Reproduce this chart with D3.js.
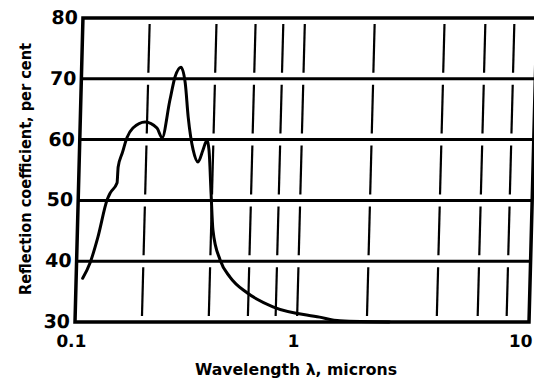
<html>

<head>
    <style>
        body {
            margin: 0;
            background: #fff;
        }

        text {
            font-family: "DejaVu Sans Condensed", "DejaVu Sans", sans-serif;
            font-weight: bold;
            fill: #000;
        }
    </style>
    <script src="https://cdn.jsdelivr.net/npm/d3@7"></script>
</head>

<body>

    <svg id="chart" width="534" height="386"></svg>

    <script>
        // reflection curve
        var wavelength = [0.107, 0.115, 0.124, 0.135, 0.139, 0.149, 0.150, 0.156, 0.163, 0.173,
            0.196, 0.222, 0.235, 0.252, 0.264, 0.280, 0.294, 0.306, 0.325, 0.343,
            0.360, 0.374, 0.383, 0.396, 0.408, 0.443, 0.493, 0.591, 0.776, 1.25,
            1.53, 2.5];
        var reflection = [37.2, 39.7, 44.0, 50.1, 51.2, 52.9, 55.5, 57.8, 60.3, 61.9,
            62.9, 61.9, 60.3, 66.5, 70.3, 71.9, 69.3, 63.7, 58.3, 56.3,
            58.3, 59.9, 58.3, 51.2, 45.1, 40.2, 37.4, 34.8, 32.5, 30.8,
            30.2, 30.0];

        var yTicks = [30, 40, 50, 60, 70, 80];
        var xTickLabels = ["0.1", "1", "10"];
        var xTickValues = [0.1, 1, 10];
        var xGrid = [0.2, 0.4, 0.6, 0.8, 1, 2, 4, 6, 8];

        var svg = d3.select("svg#chart");

        var bottom = 322;

        // the scan is a bit uneven, so each decade gets its own width
        var x = d3.scaleLog()
            .domain([0.1, 1, 10])
            .range([75, 297, 529]);

        var y = d3.scaleLinear()
            .domain([30, 80])
            .range([bottom, 18]);

        // whole plot leans slightly, like the printed figure
        var g = svg.append('g')
            .attr('transform', 'translate(0,' + bottom + ') skewX(-1.5) translate(0,' + (-bottom) + ')');

        // broken vertical grid: one dash per band, with gaps at the horizontal lines
        var bands = d3.pairs(yTicks);
        var dashes = [];
        xGrid.forEach(function (v) {
            bands.forEach(function (b) {
                dashes.push({ v: v, lo: b[0], hi: b[1] });
            });
        });

        g.selectAll('line.vgrid')
            .data(dashes)
            .enter().append('line')
            .attr('class', 'vgrid')
            .attr('x1', function (d) { return x(d.v); })
            .attr('x2', function (d) { return x(d.v); })
            .attr('y1', function (d) { return y(d.lo) - 6; })
            .attr('y2', function (d) { return y(d.hi) + 6; })
            .attr('stroke', '#000')
            .attr('stroke-width', 2.2);

        // horizontal grid lines
        g.selectAll('line.hgrid')
            .data(yTicks.slice(1, -1))
            .enter().append('line')
            .attr('class', 'hgrid')
            .attr('x1', x(0.1))
            .attr('x2', x(10))
            .attr('y1', function (d) { return y(d); })
            .attr('y2', function (d) { return y(d); })
            .attr('stroke', '#000')
            .attr('stroke-width', 3);

        // frame (right side starts a little below the top, as in the scan)
        var frame = d3.path();
        frame.moveTo(x(10) + 6, y(80));
        frame.lineTo(x(0.1), y(80));
        frame.lineTo(x(0.1), y(30));
        frame.lineTo(x(10), y(30));
        frame.lineTo(x(10), y(76));
        g.append('path')
            .attr('d', frame.toString())
            .attr('fill', 'none')
            .attr('stroke', '#000')
            .attr('stroke-width', 3.5);

        // the curve
        var pts = wavelength.map(function (w, i) { return [w, reflection[i]]; });
        var line = d3.line()
            .x(function (d) { return x(d[0]); })
            .y(function (d) { return y(d[1]); })
            .curve(d3.curveMonotoneX);

        g.append('path')
            .attr('d', line(pts))
            .attr('fill', 'none')
            .attr('stroke', '#000')
            .attr('stroke-width', 3)
            .attr('stroke-linejoin', 'round')
            .attr('stroke-linecap', 'round');

        // tick labels
        g.selectAll('text.ylab')
            .data(yTicks)
            .enter().append('text')
            .attr('class', 'ylab')
            .attr('x', x(0.1) - 5)
            .attr('y', function (d) { return y(d) + 6; })
            .attr('text-anchor', 'end')
            .style('font-family', '"DejaVu Sans", sans-serif')
            .style('font-size', '19px')
            .text(function (d) { return d; });

        g.selectAll('text.xlab')
            .data(xTickValues)
            .enter().append('text')
            .attr('class', 'xlab')
            .attr('x', function (d, i) { return i === xTickValues.length - 1 ? x(d) + 4 : x(d) - 3; })
            .attr('y', 347)
            .attr('text-anchor', function (d, i) { return i === xTickValues.length - 1 ? 'end' : 'middle'; })
            .style('font-family', '"DejaVu Sans", sans-serif')
            .style('font-size', '17px')
            .text(function (d, i) { return xTickLabels[i]; });

        // axis titles
        svg.append('text')
            .attr('x', 195)
            .attr('y', 375)
            .attr('textLength', 202)
            .attr('lengthAdjust', 'spacingAndGlyphs')
            .style('font-size', '16px')
            .text('Wavelength λ, microns');

        svg.append('text')
            .attr('transform', 'translate(31,295) rotate(-90)')
            .attr('textLength', 252)
            .attr('lengthAdjust', 'spacingAndGlyphs')
            .style('font-size', '16px')
            .text('Reflection coefficient, per cent');
    </script>
</body>

</html>
